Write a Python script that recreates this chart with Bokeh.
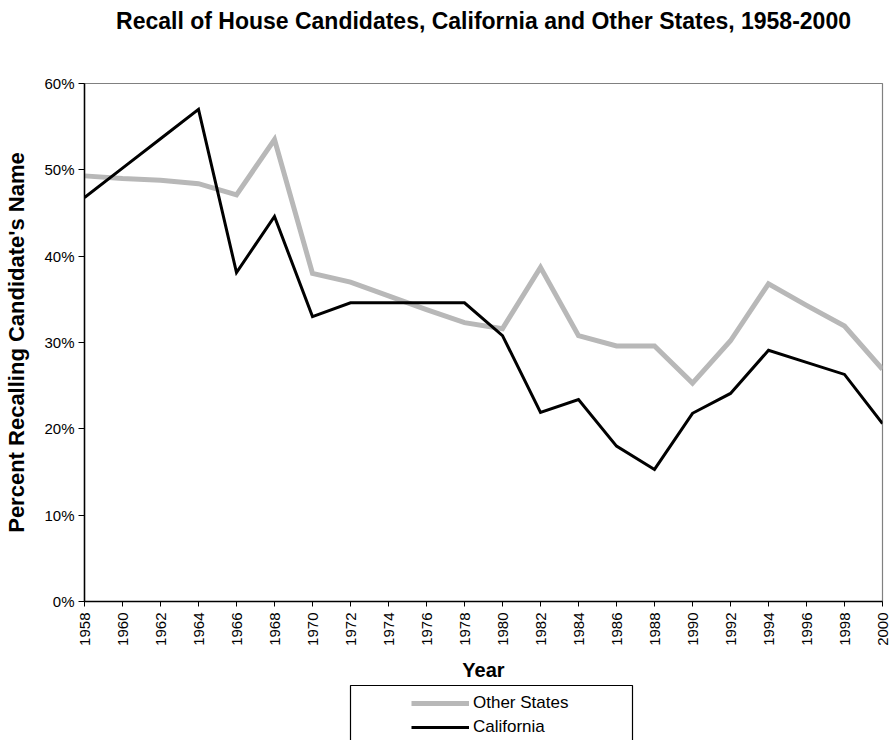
from bokeh.plotting import figure
from bokeh.layouts import column
from bokeh.models import (Range1d, FixedTicker, PrintfTickFormatter, Legend, LegendItem, Title)
from bokeh.embed import file_html
from bokeh.resources import INLINE

years = [1958, 1960, 1962, 1964, 1966, 1968, 1970, 1972, 1974, 1976, 1978,
         1980, 1982, 1984, 1986, 1988, 1990, 1992, 1994, 1996, 1998, 2000]
other_states = [49.3, 49.0, 48.8, 48.4, 47.1, 53.5, 38.0, 37.0, 35.4, 33.8, 32.3,
                31.6, 38.7, 30.8, 29.6, 29.6, 25.3, 30.2, 36.8, 34.3, 31.9, 26.9]
california = [46.8, 50.2, 53.6, 57.0, 38.1, 44.6, 33.0, 34.6, 34.6, 34.6, 34.6,
              30.8, 21.9, 23.4, 18.0, 15.3, 21.8, 24.1, 29.1, 27.7, 26.3, 20.6]
y_ticks = [0, 10, 20, 30, 40, 50, 60]
series_names = ["Other States", "California"]

FONT = "Liberation Sans"
GRAY = "#B8B8B8"

p = figure(width=891, height=683, output_backend="svg", toolbar_location=None,
           x_range=Range1d(1958, 2000), y_range=Range1d(0, 60),
           min_border_left=84, min_border_right=9, min_border_top=83, min_border_bottom=82)

# spacer title (closest to frame), then real title above it
p.add_layout(Title(text=" ", text_font=FONT, text_font_size="30px"), "above")
p.add_layout(Title(text="Recall of House Candidates, California and Other States, 1958-2000",
                   align="center", text_font=FONT, text_font_size="23px",
                   text_font_style="bold", text_color="black"), "above")

p.xgrid.visible = False
p.ygrid.visible = False
p.outline_line_color = "#808080"
p.outline_line_width = 1.2
p.background_fill_color = "white"
p.border_fill_color = "white"

p.line(years, other_states, line_color=GRAY, line_width=5, line_join="miter")
p.line(years, california, line_color="black", line_width=3, line_join="miter")

xa = p.xaxis[0]
xa.ticker = FixedTicker(ticks=years)
xa.major_label_orientation = 1.5708
xa.axis_label = "Year"
xa.axis_label_text_font = FONT
xa.axis_label_text_font_size = "20px"
xa.axis_label_text_font_style = "bold"
xa.axis_label_text_color = "black"
xa.axis_label_standoff = 10
xa.major_label_text_font = FONT
xa.major_label_text_font_size = "15px"
xa.major_label_text_color = "black"
xa.major_label_standoff = 6
xa.axis_line_color = "black"
xa.axis_line_width = 1.5
xa.major_tick_line_color = "black"
xa.major_tick_in = 0
xa.major_tick_out = 5
xa.minor_tick_line_color = None

ya = p.yaxis[0]
ya.ticker = FixedTicker(ticks=y_ticks)
ya.formatter = PrintfTickFormatter(format="%d%%")
ya.axis_label = "Percent Recalling Candidate's Name"
ya.axis_label_text_font = FONT
ya.axis_label_text_font_size = "22px"
ya.axis_label_text_font_style = "bold"
ya.axis_label_text_color = "black"
ya.axis_label_standoff = 12
ya.major_label_text_font = FONT
ya.major_label_text_font_size = "15px"
ya.major_label_text_color = "black"
ya.major_label_standoff = 4
ya.axis_line_color = "black"
ya.axis_line_width = 1.5
ya.major_tick_line_color = "black"
ya.major_tick_in = 0
ya.major_tick_out = 6
ya.minor_tick_line_color = None

# legend strip below the chart (frame aligned with the chart frame; x in pixels)
p2 = figure(width=891, height=57, output_backend="svg", toolbar_location=None,
            x_range=Range1d(84, 882), y_range=Range1d(57, 0),
            x_axis_location=None, y_axis_location=None,
            min_border_left=84, min_border_right=9, min_border_top=0, min_border_bottom=0)
p2.xgrid.visible = False
p2.ygrid.visible = False
p2.outline_line_color = None
p2.background_fill_color = "white"
p2.border_fill_color = "white"
p2.quad(left=[350], right=[632], top=[2], bottom=[80], fill_alpha=0,
        line_color="black", line_width=1.2)
# legend swatches reuse the series (they fall outside this strip's ranges, so only the swatch shows)
l_other = p2.line(years, other_states, line_color=GRAY, line_width=5)
l_ca = p2.line(years, california, line_color="black", line_width=3)
legend = Legend(items=[LegendItem(label=series_names[0], renderers=[l_other]),
                       LegendItem(label=series_names[1], renderers=[l_ca])],
                location=(327, 3), orientation="vertical",
                border_line_alpha=0, background_fill_alpha=0,
                padding=0, spacing=4, glyph_width=58, glyph_height=20,
                label_standoff=4, label_text_font=FONT, label_text_font_size="17px",
                label_text_color="black", margin=0)
p2.add_layout(legend, "center")

layout = column(p, p2, spacing=0)
open("out.html", "w").write(file_html(layout, INLINE))
